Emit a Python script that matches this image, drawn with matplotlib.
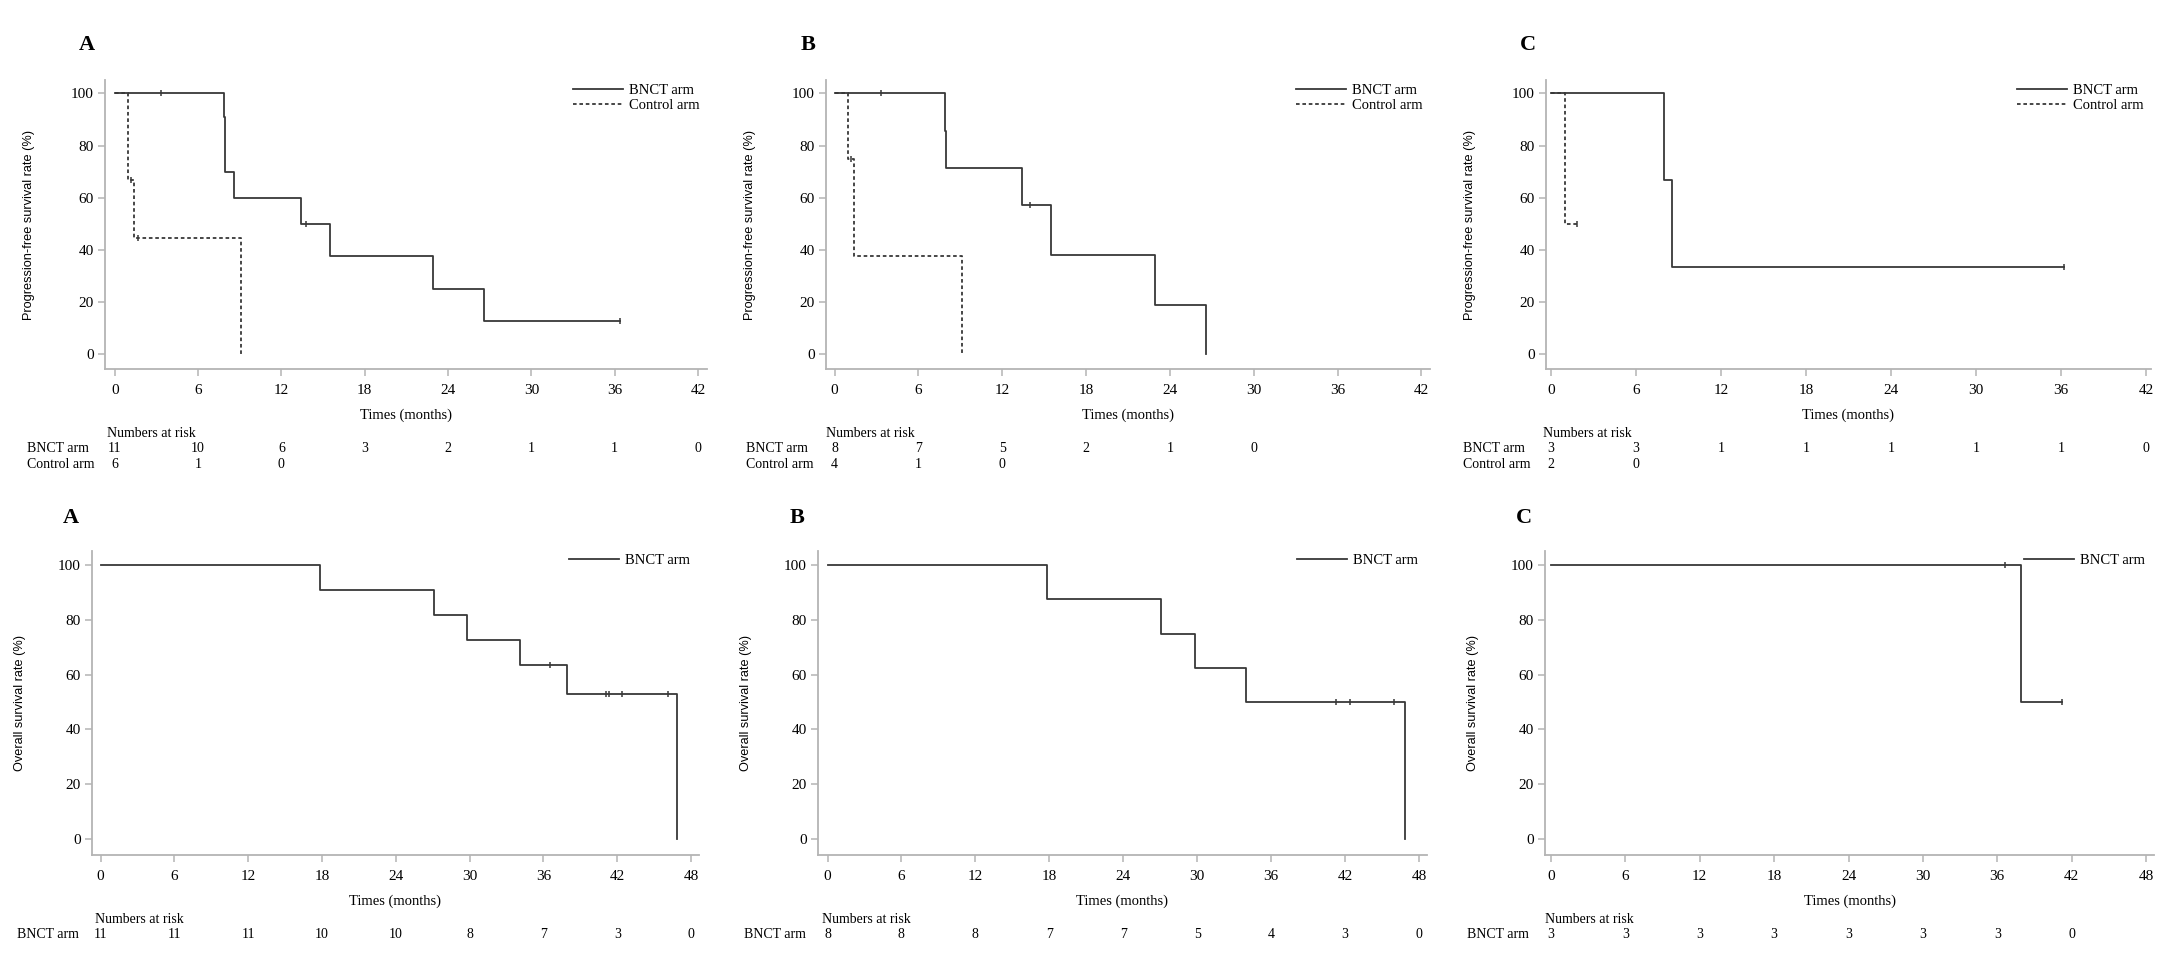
import matplotlib
matplotlib.use("Agg")
from matplotlib import pyplot as plt
from matplotlib import transforms

plt.rcParams['font.family'] = 'Liberation Serif'
plt.rcParams['lines.scale_dashes'] = False

# ---------------- data ----------------
panel_letters = ["A", "B", "C"]

# progression-free survival (top row): step times (months) and survival (%)
pfs_bnct_t = [[0, 7.88, 7.92, 7.96, 8.6, 13.4, 15.5, 22.9, 26.6, 36.4],
              [0, 7.88, 7.95, 13.4, 15.5, 22.9, 26.6],
              [0, 7.97, 8.55, 36.2]]
pfs_bnct_s = [[100, 90.9, 80.0, 70.0, 60.0, 50.0, 37.5, 25.0, 12.5, 12.5],
              [100, 85.7, 71.4, 57.1, 38.1, 19.0, 0],
              [100, 66.7, 33.3, 33.3]]
pfs_bnct_cens_t = [[3.3, 13.8, 36.4], [3.3, 14.0], [36.2]]
pfs_bnct_cens_s = [[100, 50.0, 12.5], [100, 57.1], [33.3]]

pfs_ctrl_t = [[0, 0.94, 1.37, 9.1], [0, 0.94, 1.37, 9.1], [0, 0.97, 1.85]]
pfs_ctrl_s = [[100, 66.7, 44.4, 0], [100, 75.0, 37.5, 0], [100, 50.0, 50.0]]
pfs_ctrl_cens_t = [[1.2, 1.7], [1.2], [1.85]]
pfs_ctrl_cens_s = [[66.7, 44.4], [75.0], [50.0]]

pfs_ticks = [0, 6, 12, 18, 24, 30, 36, 42]
pfs_risk_bnct = [[11, 10, 6, 3, 2, 1, 1, 0], [8, 7, 5, 2, 1, 0], [3, 3, 1, 1, 1, 1, 1, 0]]
pfs_risk_ctrl = [[6, 1, 0], [4, 1, 0], [2, 0]]

# overall survival (bottom row)
os_bnct_t = [[0, 17.8, 27.1, 29.8, 34.1, 37.9, 46.9],
             [0, 17.8, 27.1, 29.8, 34.0, 46.9],
             [0, 37.9, 41.2]]
os_bnct_s = [[100, 90.9, 81.8, 72.7, 63.6, 53.0, 0],
             [100, 87.5, 75.0, 62.5, 50.0, 0],
             [100, 50.0, 50.0]]
os_cens_t = [[36.55, 41.1, 41.3, 42.4, 46.1], [41.3, 42.4, 46.0], [36.6, 41.2]]
os_cens_s = [[63.6, 53.0, 53.0, 53.0, 53.0], [50.0, 50.0, 50.0], [100, 50.0]]

os_ticks = [0, 6, 12, 18, 24, 30, 36, 42, 48]
os_risk_bnct = [[11, 11, 11, 10, 10, 8, 7, 3, 0], [8, 8, 8, 7, 7, 5, 4, 3, 0],
                [3, 3, 3, 3, 3, 3, 3, 0]]

# ---------------- layout (pixels) ----------------
W, H = 2160, 980
line_col = '#383838'
spine_col = '#b4b4b4'

rows = [
    dict(left=[105, 826, 1546], right=[707, 1430, 2151], zero=[114.7, 834.5, 1551],
         end=[698, 1421.5, 2146], tmax=42, top=80, bot=369, y100=93.5, y0=354,
         ylabel="Progression-free survival rate (%)", ylab_off=76, letter_y=45, letter_off=18,
         leg_off=134, leg_top=84, row_lab=88, nar_off=8),
    dict(left=[92, 818, 1545], right=[699, 1427, 2154], zero=[100.6, 827.5, 1551],
         end=[691, 1419, 2146], tmax=48, top=551, bot=855, y100=565, y0=839,
         ylabel="Overall survival rate (%)", ylab_off=72, letter_y=518, letter_off=21,
         leg_off=130, leg_top=554, row_lab=84, nar_off=6),
]

fig = plt.figure(figsize=(W / 100, H / 100), dpi=100)

for r, lay in enumerate(rows):
    for i in range(3):
        ppm = (lay['end'][i] - lay['zero'][i]) / lay['tmax']
        ppu = (lay['y0'] - lay['y100']) / 100.0
        ax = fig.add_axes([lay['left'][i] / W, 1 - lay['bot'] / H,
                           (lay['right'][i] - lay['left'][i]) / W, (lay['bot'] - lay['top']) / H])
        ax.set_xlim((lay['left'][i] - lay['zero'][i]) / ppm, (lay['right'][i] - lay['zero'][i]) / ppm)
        ax.set_ylim(-(lay['bot'] - lay['y0']) / ppu, (lay['y0'] - lay['top']) / ppu)

        if r == 0:
            h1, = ax.step(pfs_bnct_t[i], pfs_bnct_s[i], where='post', color=line_col, lw=1.3)
            ax.plot(pfs_bnct_cens_t[i], pfs_bnct_cens_s[i], ls='none', marker='|',
                    ms=5, mew=1.1, color=line_col)
            h2, = ax.step(pfs_ctrl_t[i], pfs_ctrl_s[i], where='post', color=line_col, lw=1.3,
                          dashes=(2.6, 2))
            ax.plot(pfs_ctrl_cens_t[i], pfs_ctrl_cens_s[i], ls='none', marker='|',
                    ms=5, mew=1.1, color=line_col)
            handles = [h1, h2]
            labels = ["BNCT arm", "Control arm"]
            ticks = pfs_ticks
        else:
            h1, = ax.step(os_bnct_t[i], os_bnct_s[i], where='post', color=line_col, lw=1.3)
            ax.plot(os_cens_t[i], os_cens_s[i], ls='none', marker='|',
                    ms=5, mew=1.1, color=line_col)
            handles = [h1]
            labels = ["BNCT arm"]
            ticks = os_ticks

        ax.set_xticks(ticks)
        ax.set_yticks([0, 20, 40, 60, 80, 100])
        for s in ['top', 'right']:
            ax.spines[s].set_visible(False)
        for s in ['left', 'bottom']:
            ax.spines[s].set_color(spine_col)
            ax.spines[s].set_linewidth(1.3)
        ax.tick_params(axis='both', direction='out', length=5, width=1.1, color=spine_col,
                       labelsize=11)
        ax.tick_params(axis='x', pad=6)
        ax.tick_params(axis='y', pad=3)

        # x label
        ax.text(0.5, 1 - (lay['bot'] + 46) / H, "Times (months)", fontsize=10.5, ha='center', va='center',
                transform=transforms.blended_transform_factory(ax.transAxes, fig.transFigure))

        # y label
        fig.text((lay['left'][i] - lay['ylab_off']) / W, 1 - (lay['top'] + lay['bot']) / 2 / H,
                 lay['ylabel'], rotation=90, ha='center', va='center', fontsize=9.2,
                 family='Liberation Sans')

        # panel letter
        fig.text((lay['left'][i] - lay['letter_off']) / W, 1 - lay['letter_y'] / H,
                 panel_letters[i], fontsize=16, fontweight='bold', ha='center', va='center')

        # legend
        ax.legend(handles, labels, loc='upper left',
                  bbox_to_anchor=((lay['right'][i] - lay['leg_off']) / W, 1 - lay['leg_top'] / H),
                  bbox_transform=fig.transFigure, frameon=False, borderpad=0, borderaxespad=0,
                  handlelength=3.4, handletextpad=0.45, labelspacing=0.12, fontsize=10.5)

        # numbers at risk table
        tr = transforms.blended_transform_factory(ax.transData, fig.transFigure)
        fig.text((lay['zero'][i] - lay['nar_off']) / W, 1 - (lay['bot'] + 64) / H, "Numbers at risk",
                 fontsize=10, ha='left', va='center')
        fig.text((lay['zero'][i] - lay['row_lab']) / W, 1 - (lay['bot'] + 79) / H, "BNCT arm",
                 fontsize=10, ha='left', va='center')
        risk = pfs_risk_bnct[i] if r == 0 else os_risk_bnct[i]
        for t, n in zip(ticks, risk):
            ax.text(t, 1 - (lay['bot'] + 79) / H, str(n), transform=tr, fontsize=10,
                    ha='center', va='center')
        if r == 0:
            fig.text((lay['zero'][i] - lay['row_lab']) / W, 1 - (lay['bot'] + 95) / H, "Control arm",
                     fontsize=10, ha='left', va='center')
            for t, n in zip(ticks, pfs_risk_ctrl[i]):
                ax.text(t, 1 - (lay['bot'] + 95) / H, str(n), transform=tr, fontsize=10,
                        ha='center', va='center')

fig.savefig("out.png", dpi=100)
